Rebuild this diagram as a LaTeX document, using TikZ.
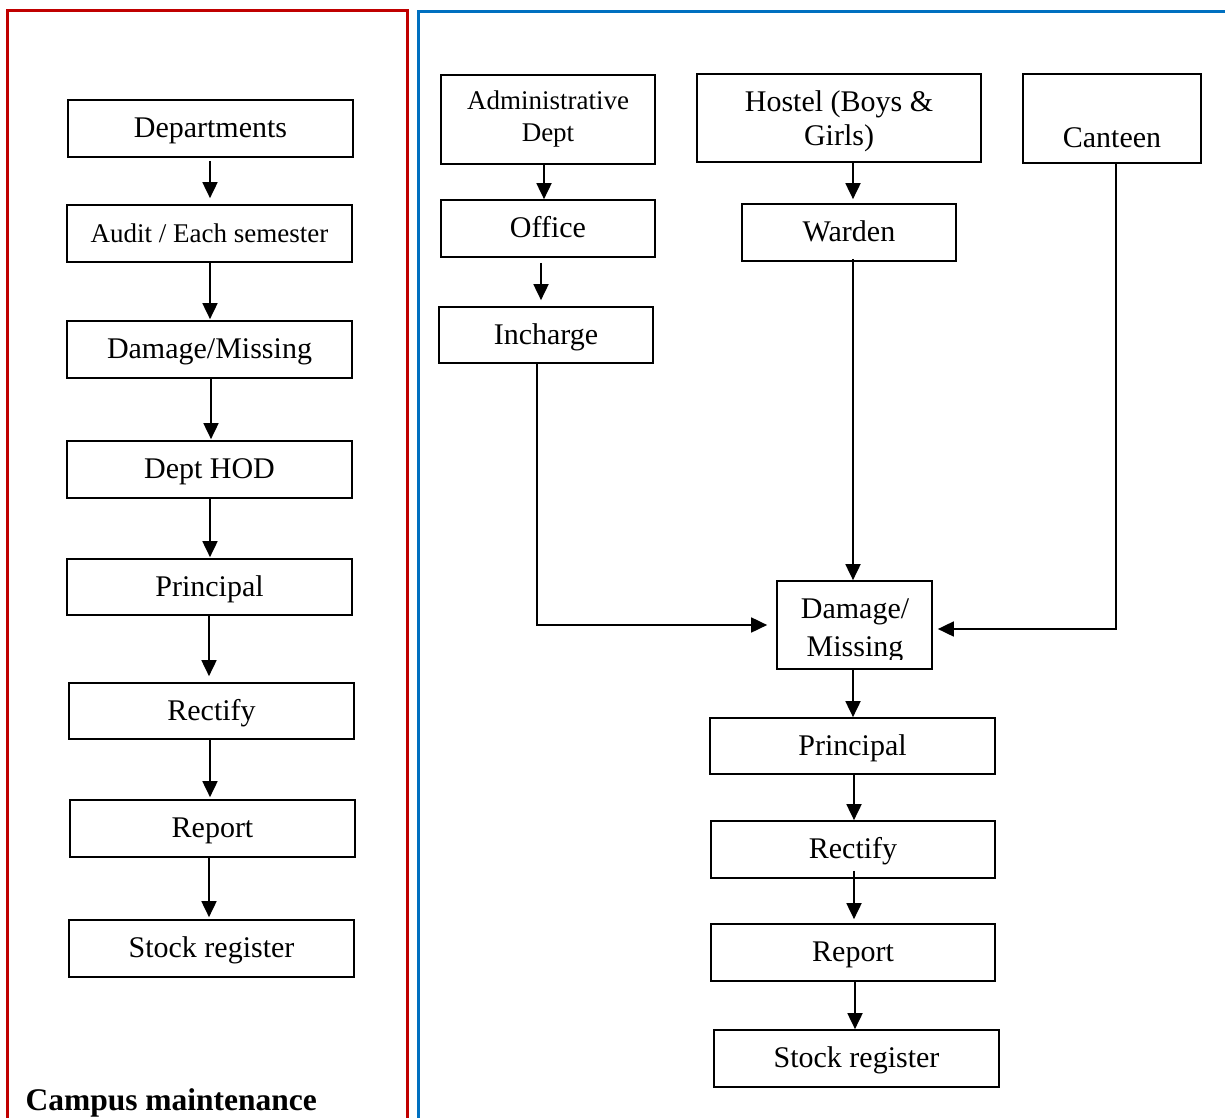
\documentclass[tikz,border=0pt]{standalone}
\usepackage{fontspec}
\setmainfont{Liberation Serif}
\usetikzlibrary{arrows.meta}
\definecolor{framered}{RGB}{192,0,0}
\definecolor{frameblue}{RGB}{0,112,192}
\begin{document}
\begin{tikzpicture}[x=1pt,y=-1pt,
  box/.style={draw, line width=1.7pt, rectangle, inner sep=0pt, align=center,
    font=\fontsize{30}{34}\selectfont},
  one/.style={text height=23pt, text depth=4.6pt},
  smallbox/.style={box, font=\fontsize{27}{31}\selectfont},
  arr/.style={line width=1.8pt, -{Triangle[length=16pt,width=15pt]}}
]
\useasboundingbox (0,0) rectangle (1225,1118);
% frames
\draw[framered, line width=3pt] (7,1125) -- (7,11) -- (407,11) -- (407,1125);
\draw[frameblue, line width=3pt] (418,1125) -- (418,12) -- (1232,12);

% left column
\node[box, one, minimum width=285, minimum height=57] (dep) at (210.5,128.5) {Departments};
\node[smallbox, one, minimum width=285, minimum height=57] (aud) at (209.5,233.5) {Audit / Each semester};
\node[box, one, minimum width=285, minimum height=57] (dm1) at (209.5,349.5) {Damage/Missing};
\node[box, one, minimum width=285, minimum height=57] (hod) at (209.5,469.5) {Dept HOD};
\node[box, one, minimum width=285, minimum height=56] (pri1) at (209.5,587) {Principal};
\node[box, one, minimum width=285, minimum height=56] (rec1) at (211.5,711) {Rectify};
\node[box, one, minimum width=285, minimum height=57] (rep1) at (212.5,828.5) {Report};
\node[box, one, minimum width=285, minimum height=57] (stk1) at (211.5,948.5) {Stock register};

\draw[arr, shorten <=3pt, shorten >=6pt] ([xshift=-0.5pt]dep.south) -- ([xshift=-0.5pt]dep.south |- aud.north);
\draw[arr, shorten >=1pt] ([xshift=0.5pt]aud.south) -- ([xshift=0.5pt]aud.south |- dm1.north);
\draw[arr, shorten >=1pt] ([xshift=1.5pt]dm1.south) -- ([xshift=1.5pt]dm1.south |- hod.north);
\draw[arr, shorten >=1pt] ([xshift=0.5pt]hod.south) -- ([xshift=0.5pt]hod.south |- pri1.north);
\draw[arr, shorten >=6pt] ([xshift=-0.5pt]pri1.south) -- ([xshift=-0.5pt]pri1.south |- rec1.north);
\draw[arr, shorten >=2pt] ([xshift=-1.5pt]rec1.south) -- ([xshift=-1.5pt]rec1.south |- rep1.north);
\draw[arr, shorten >=2pt] ([xshift=-3.5pt]rep1.south) -- ([xshift=-3.5pt]rep1.south |- stk1.north);

\node[anchor=base west, font=\bfseries\fontsize{31.5}{36}\selectfont] (cm) at (22,1110) {Campus maintenance};

% right part
\node[smallbox, minimum width=214, minimum height=89, font=\fontsize{27}{32}\selectfont] (adm) at (548,119.5) {Administrative\\Dept};
\node[box, one, minimum width=214, minimum height=57] (off) at (548,228.5) {Office};
\node[box, one, minimum width=214, minimum height=56] (inc) at (546,335) {Incharge};
\node[box, minimum width=284, minimum height=88] (hos) at (839,118) {};
\node[font=\fontsize{30}{34}\selectfont, align=center, inner sep=0pt] (host) at (839,121) {Hostel (Boys \&\\Girls)};
\node[box, one, minimum width=214, minimum height=57] (war) at (849,232.5) {Warden};
\node[box, minimum width=178, minimum height=89] (can) at (1112,118.5) {};
\node[font=\fontsize{30}{34}\selectfont, inner sep=0pt] (cant) at (1112,138) {Canteen};
\node[box, minimum width=155, minimum height=88] (dm2) at (854.5,625) {};
\begin{scope}
\clip (778,583) rectangle (931,659.5);
\node[font=\fontsize{30}{38}\selectfont, align=center, inner sep=0pt] (dm2t) at (855,631) {Damage/\\Missing};
\end{scope}
\node[box, one, minimum width=285, minimum height=56] (pri2) at (852.5,746) {Principal};
\node[box, one, minimum width=284, minimum height=57] (rec2) at (853,849.5) {Rectify};
\node[box, one, minimum width=284, minimum height=57] (rep2) at (853,952.5) {Report};
\node[box, one, minimum width=285, minimum height=57] (stk2) at (856.5,1058.5) {Stock register};

\draw[arr] ([xshift=-4pt]adm.south) -- ([xshift=-4pt]adm.south |- off.north);
\draw[arr, shorten <=5pt, shorten >=6pt] ([xshift=-7pt]off.south) -- ([xshift=-7pt]off.south |- inc.north);
\draw[arr, shorten >=4pt] ([xshift=4pt]war.north |- hos.south) -- ([xshift=4pt]war.north);
\draw[arr, shorten <=-3pt] ([xshift=-1.5pt]dm2.north |- war.south) -- ([xshift=-1.5pt]dm2.north);
\draw[arr, shorten >=9pt] ([xshift=-9pt]inc.south) |- (dm2.west);
\draw[arr, shorten >=5pt] ([xshift=4pt]can.south) |- ([yshift=-4pt]dm2.east);
\draw[arr] ([xshift=-1.5pt]dm2.south) -- ([xshift=-1.5pt]dm2.south |- pri2.north);
\draw[arr] ([xshift=1.5pt]pri2.south) -- ([xshift=1.5pt]pri2.south |- rec2.north);
\draw[arr, shorten <=-8pt, shorten >=4pt] ([xshift=1pt]rec2.south) -- ([xshift=1pt]rec2.south |- rep2.north);
\draw[arr] ([xshift=2pt]rep2.south) -- ([xshift=2pt]rep2.south |- stk2.north);
\end{tikzpicture}
\end{document}
